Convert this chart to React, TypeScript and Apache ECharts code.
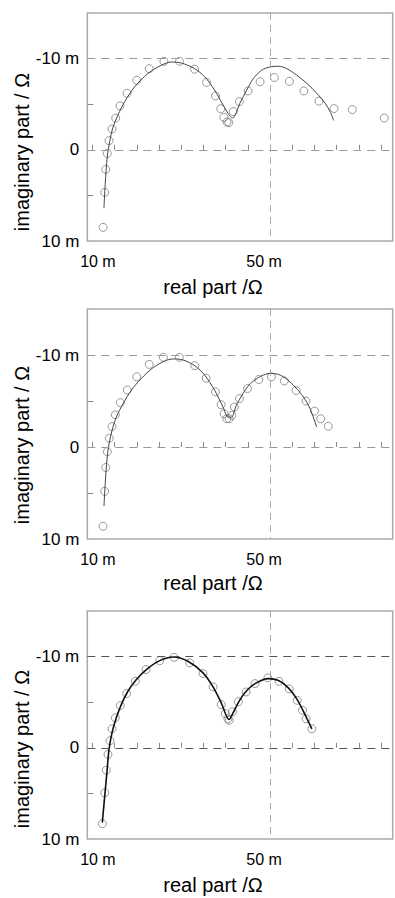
import React, { useEffect, useRef } from "react";
import * as echarts from "echarts";

// ---- Data (real part / mΩ, imaginary part / mΩ) ----
const p1Re = [12.4, 12.77, 13.0, 13.36, 13.74, 14.41, 15.24, 16.2, 17.8, 19.98, 22.8, 26.1, 29.6, 33.0, 35.7, 37.7, 38.9, 39.6, 40.3, 40.7, 41.7, 43.1, 45.05, 47.75, 50.97, 54.35, 57.6, 61.0, 64.4, 68.5, 75.7];
const p1Im = [8.5, 4.67, 2.14, 0.4, -1.0, -2.28, -3.48, -4.82, -6.2, -7.62, -8.9, -9.7, -9.7, -8.84, -7.39, -5.9, -4.5, -3.55, -3.05, -2.98, -4.2, -5.28, -6.45, -7.46, -7.93, -7.5, -6.45, -5.33, -4.52, -4.41, -3.48];
const f1Re = [12.6, 12.9, 13.36, 13.9, 14.6, 15.77, 17.27, 19.5, 22.5, 25.5, 27.8, 30.0, 33.0, 35.3, 37.5, 39.4, 40.9, 41.6, 42.4, 43.2, 44.75, 46.2, 48.1, 50.0, 51.9, 53.76, 56.0, 58.3, 60.5, 62.4, 63.5, 64.3];
const f1Im = [6.4, 3.6, 0.7, -0.93, -2.4, -3.84, -5.28, -6.9, -8.37, -9.27, -9.63, -9.52, -8.9, -8.0, -6.55, -4.92, -3.73, -3.5, -4.1, -5.1, -6.55, -7.8, -8.73, -9.09, -9.16, -8.9, -8.18, -7.28, -6.2, -5.1, -4.2, -3.22];

const p2Re = [12.39, 12.77, 13.0, 13.36, 13.8, 14.41, 15.16, 16.28, 17.86, 19.98, 22.8, 25.97, 29.57, 33.04, 35.6, 37.7, 38.96, 39.64, 40.25, 40.8, 41.4, 41.96, 43.1, 44.9, 47.45, 50.3, 53.2, 55.86, 58.1, 60.0, 61.4, 63.1];
const p2Im = [8.62, 4.82, 2.23, 0.51, -0.95, -2.22, -3.5, -4.82, -6.2, -7.63, -8.98, -9.75, -9.75, -8.84, -7.48, -5.99, -4.6, -3.61, -3.07, -3.07, -3.43, -4.35, -5.26, -6.35, -7.34, -7.63, -7.18, -6.14, -5.0, -3.9, -3.07, -2.25];
const f2Re = [12.6, 12.9, 13.29, 13.74, 14.41, 15.38, 16.9, 18.76, 21.0, 23.65, 26.3, 28.15, 30.4, 33.04, 35.3, 37.5, 39.4, 40.55, 41.3, 42.45, 43.9, 45.0, 46.2, 48.1, 50.0, 51.9, 53.76, 55.6, 57.5, 59.0, 60.5];
const f2Im = [6.43, 3.87, 1.31, -0.33, -1.79, -3.25, -4.71, -6.17, -7.45, -8.62, -9.35, -9.57, -9.46, -8.84, -7.8, -6.17, -4.35, -3.25, -3.25, -4.6, -5.8, -6.6, -7.15, -7.74, -8.0, -7.89, -7.37, -6.54, -5.44, -4.16, -2.16];

const p3Re = [12.23, 12.77, 13.13, 13.5, 13.96, 14.41, 15.16, 16.28, 17.7, 19.66, 22.07, 25.16, 28.38, 31.9, 34.9, 37.16, 39.0, 39.9, 40.5, 40.8, 41.5, 42.85, 44.6, 46.6, 49.5, 52.0, 54.3, 56.1, 57.3, 58.1, 59.4];
const p3Im = [8.32, 4.93, 2.45, 0.73, -0.77, -2.08, -3.29, -4.63, -5.95, -7.29, -8.58, -9.56, -9.92, -9.31, -8.14, -6.68, -4.74, -3.76, -3.17, -3.02, -3.95, -5.05, -6.12, -7.04, -7.67, -7.29, -6.46, -5.21, -4.12, -3.18, -2.08];
const f3Re = [12.23, 12.77, 13.29, 13.74, 14.41, 15.38, 16.5, 18.0, 19.9, 22.14, 25.16, 28.15, 31.5, 34.9, 37.16, 39.0, 40.77, 41.67, 43.0, 44.6, 46.6, 49.6, 51.9, 54.1, 56.0, 57.5, 59.4];
const f3Im = [8.21, 5.3, 2.56, 0.18, -1.64, -3.29, -4.74, -6.2, -7.48, -8.58, -9.56, -9.96, -9.49, -8.21, -6.68, -4.93, -3.1, -3.83, -5.1, -6.2, -7.04, -7.59, -7.37, -6.57, -5.37, -4.0, -2.08];

// ---- Axis ticks / labels ----
const xTickValues = [10, 15, 20, 25, 30, 35, 40, 45, 50, 55, 60, 65, 70, 75];
const xLabelValues = [10, 50];
const yTickValues = [-5, 5];
const yLabelValues = [-10, 0, 10];
const hLineValues = [-10, 0];
const vLineValues = [50];
const xTitle = "real part /Ω";
const yTitle = "imaginary part / Ω";

const FONT = "'Liberation Sans', Arial, Helvetica, sans-serif";

const panels = [
  { re: p1Re, im: p1Im, fitRe: f1Re, fitIm: f1Im, top: 13, height: 228, xTitleY: 287, yTitleY: 152, fitColor: "#444", fitWidth: 1, gridColor: "#999" },
  { re: p2Re, im: p2Im, fitRe: f2Re, fitIm: f2Im, top: 309, height: 230, xTitleY: 583, yTitleY: 445, fitColor: "#444", fitWidth: 1, gridColor: "#999" },
  { re: p3Re, im: p3Im, fitRe: f3Re, fitIm: f3Im, top: 611, height: 228, xTitleY: 885, yTitleY: 749, fitColor: "#111", fitWidth: 1.6, gridColor: "#555" },
];

const zip = (a: number[], b: number[]) => a.map((v, i) => [v, b[i]]);

export default function App() {
  const ref = useRef<HTMLDivElement>(null);
  useEffect(() => {
    if (!ref.current) return;
    const chart = echarts.init(ref.current, undefined, { renderer: "svg" });
    const option: any = {
      animation: false,
      backgroundColor: "#fff",
      grid: panels.map((p) => ({
        left: 87.3,
        top: p.top,
        width: 305.4,
        height: p.height,
        show: true,
        borderColor: "#aaa",
        borderWidth: 1.5,
        backgroundColor: "transparent",
        containLabel: false,
        outerBoundsMode: "none",
      })),
      xAxis: panels.map((p, i) => ({
        type: "value",
        gridIndex: i,
        min: 8.85,
        max: 77.6,
        axisLine: { show: false },
        splitLine: { show: false },
        axisTick: { show: true, inside: true, length: 5, customValues: xTickValues, lineStyle: { color: "#888", width: 1 } },
        axisLabel: {
          show: true,
          customValues: xLabelValues,
          margin: 12,
          color: "#000",
          fontFamily: FONT,
          fontSize: 16,
          formatter: (v: number) => (v === 10 ? "{a|10 m}" : v === 50 ? "{b|50 m}" : ""),
          rich: {
            a: { fontSize: 16, fontFamily: FONT, color: "#000", padding: [0, 0, 0, 11] },
            b: { fontSize: 16, fontFamily: FONT, color: "#000", padding: [0, 12, 0, 0] },
          },
        },
      })),
      yAxis: panels.map((p, i) => ({
        type: "value",
        gridIndex: i,
        min: -15,
        max: 10,
        inverse: true,
        axisLine: { show: false },
        splitLine: { show: false },
        axisTick: { show: true, inside: true, length: 6, customValues: yTickValues, lineStyle: { color: "#888", width: 1 } },
        axisLabel: {
          show: true,
          customValues: yLabelValues,
          margin: 8,
          color: "#000",
          fontFamily: FONT,
          fontSize: 17,
          formatter: (v: number) => (v === 0 ? "0" : `${v} m`),
        },
      })),
      series: panels.flatMap((p, i) => [
        {
          type: "scatter",
          xAxisIndex: i,
          yAxisIndex: i,
          data: zip(p.re, p.im),
          symbol: "circle",
          symbolSize: 8,
          itemStyle: { color: "rgba(0,0,0,0)", borderColor: "#808080", borderWidth: 1 },
          z: 2,
          markLine: {
            silent: true,
            symbol: ["none", "none"],
            label: { show: false },
            data: [
              ...hLineValues.map((v) => ({ yAxis: v, lineStyle: { color: p.gridColor, type: [8, 6], width: 1 } })),
              ...vLineValues.map((v) => ({ xAxis: v, lineStyle: { color: "#aaa", type: [7, 5], width: 1 } })),
            ],
          },
        },
        {
          type: "line",
          xAxisIndex: i,
          yAxisIndex: i,
          data: zip(p.fitRe, p.fitIm),
          showSymbol: false,
          symbol: "none",
          smooth: 0.3,
          lineStyle: { color: p.fitColor, width: p.fitWidth },
          z: 3,
        },
      ]),
      graphic: panels.flatMap((p) => [
        {
          type: "text",
          x: 213,
          y: p.xTitleY,
          style: { text: xTitle, fontSize: 20, fontFamily: FONT, fill: "#000", align: "center", verticalAlign: "middle" },
        },
        {
          type: "text",
          x: 22,
          y: p.yTitleY,
          rotation: Math.PI / 2,
          style: { text: yTitle, fontSize: 20, fontFamily: FONT, fill: "#000", align: "center", verticalAlign: "middle" },
        },
      ]),
    };
    chart.setOption(option);
    return () => chart.dispose();
  }, []);
  return <div ref={ref} style={{ position: "absolute", left: 0, top: 0, width: 395, height: 898 }} />;
}
